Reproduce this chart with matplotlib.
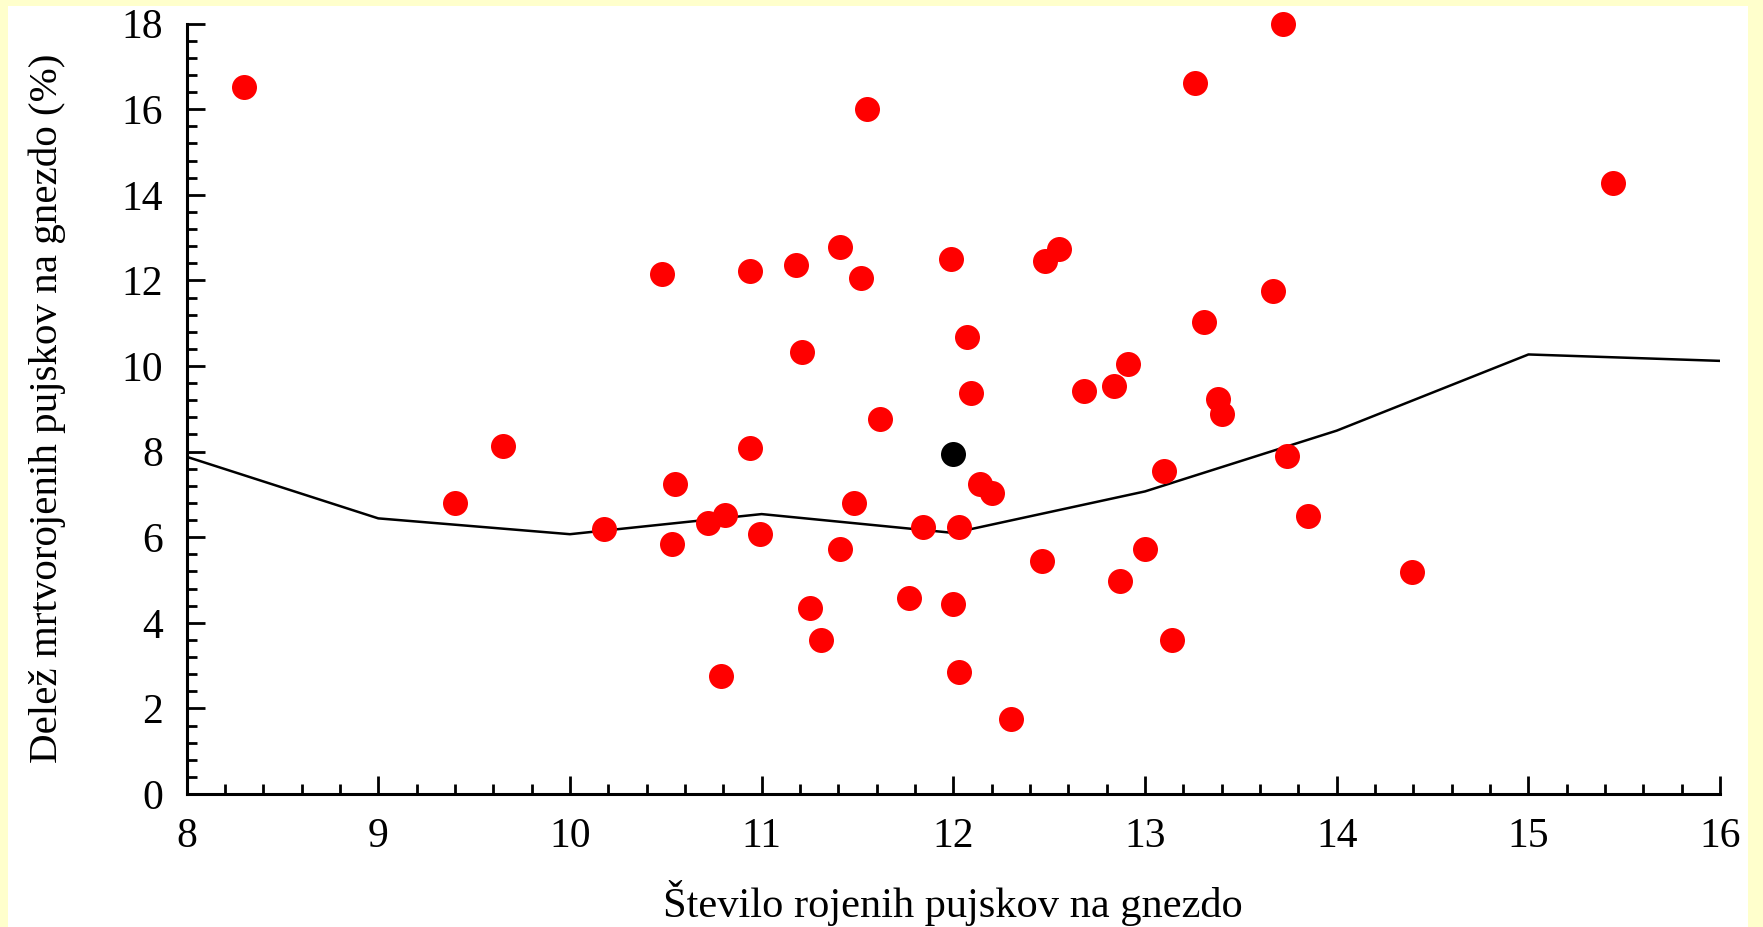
import numpy as np
import matplotlib.pyplot as plt
from matplotlib.patches import Rectangle
from matplotlib.ticker import MultipleLocator

# stevilo rojenih pujskov (x) in delez mrtvorojenih (y)
x_nest = [8.30, 9.40, 9.65, 10.18, 10.48, 10.53, 10.55, 10.72, 10.81, 10.79,
          10.94, 10.94, 10.99, 11.18, 11.21, 11.25, 11.31, 11.41, 11.41, 11.48,
          11.52, 11.55, 11.62, 11.77, 11.84, 11.99, 12.00, 12.03, 12.03, 12.07,
          12.09, 12.14, 12.20, 12.30, 12.46, 12.48, 12.55, 12.68, 12.84, 12.87,
          12.91, 13.00, 13.10, 13.14, 13.26, 13.31, 13.38, 13.40, 13.67, 13.72,
          13.74, 13.85, 14.39, 15.44]
y_dead = [16.53, 6.80, 8.14, 6.20, 12.14, 5.83, 7.25, 6.33, 6.52, 2.76,
          12.22, 8.09, 6.07, 12.35, 10.33, 4.34, 3.60, 12.79, 5.73, 6.80,
          12.06, 16.00, 8.77, 4.57, 6.23, 12.51, 4.44, 6.23, 2.84, 10.67,
          9.38, 7.25, 7.04, 1.76, 5.44, 12.45, 12.74, 9.41, 9.54, 4.97,
          10.04, 5.73, 7.54, 3.60, 16.61, 11.03, 9.22, 8.88, 11.75, 18.0,
          7.90, 6.49, 5.18, 14.27]

# povprecje
x_mean = [12.0]
y_mean = [7.95]

# krivulja
x_line = [8, 9, 10, 11, 12, 13, 14, 15, 16]
y_line = [7.88, 6.44, 6.07, 6.54, 6.10, 7.07, 8.49, 10.27, 10.12]

plt.rcParams['font.family'] = ['Liberation Serif', 'DejaVu Serif']

fig = plt.figure(figsize=(17.63, 9.27), dpi=100, facecolor='#FFFFCC')
# bel okvir znotraj rumenega roba
fig.patches.append(Rectangle((8/1763, 0), (1748-8)/1763, 1-6/927,
                             transform=fig.transFigure, facecolor='white',
                             edgecolor='none', zorder=-5))

ax = fig.add_axes([0.1058, 0.1435, 0.8699, 0.831])
ax.set_facecolor('none')
ax.set_zorder(1)

ax.plot(x_line, y_line, color='black', lw=1.8, zorder=2)
ax.plot(x_nest, y_dead, 'o', color='#FF0000', ms=18, mec='none', zorder=3,
        clip_on=False)
ax.plot(x_mean, y_mean, 'o', color='black', ms=18, mec='none', zorder=4)

ax.set_xlim(8, 16)
ax.set_ylim(0, 18)
ax.xaxis.set_major_locator(MultipleLocator(1))
ax.xaxis.set_minor_locator(MultipleLocator(0.2))
ax.yaxis.set_major_locator(MultipleLocator(2))
ax.yaxis.set_minor_locator(MultipleLocator(0.4))

for s in ['top', 'right']:
    ax.spines[s].set_visible(False)
for s in ['left', 'bottom']:
    ax.spines[s].set_linewidth(2.2)

ax.tick_params(which='major', direction='in', length=13, width=2, labelsize=30)
ax.tick_params(which='minor', direction='in', length=7, width=2)
ax.tick_params(axis='x', which='major', pad=17)
ax.tick_params(axis='y', which='major', pad=17)

ax.set_xlabel('Število rojenih pujskov na gnezdo', fontsize=30.5, labelpad=17)
ax.set_ylabel('Delež mrtvorojenih pujskov na gnezdo (%)', fontsize=29.5, labelpad=40)

fig.savefig('out.png', dpi=100, facecolor=fig.get_facecolor())
